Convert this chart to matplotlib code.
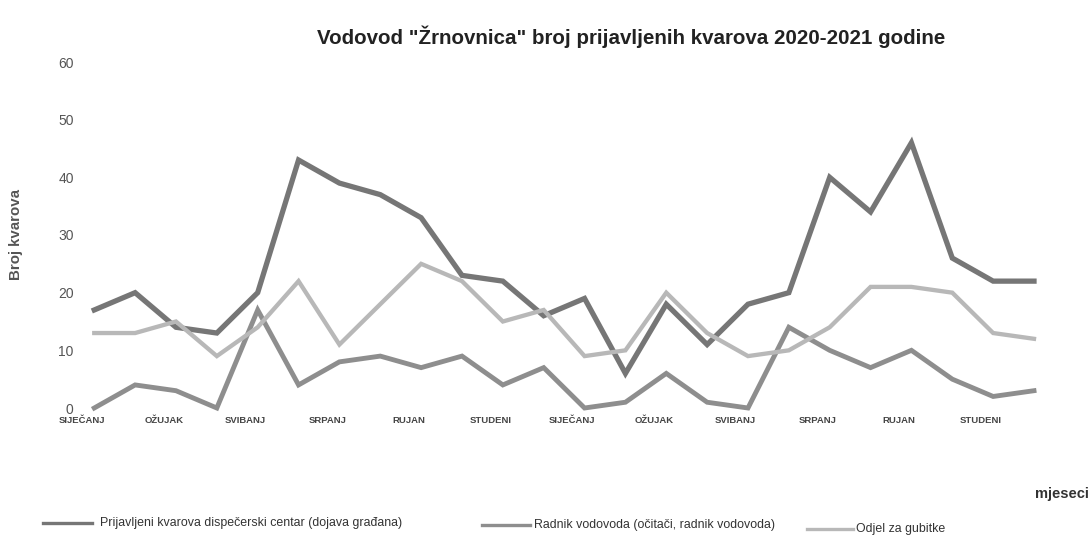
import matplotlib
matplotlib.use("Agg")
import matplotlib.pyplot as plt
from matplotlib.lines import Line2D

plt.rcParams['font.family'] = ['Liberation Sans', 'DejaVu Sans']

# ---- data ----
months = ["SIJEČANJ", "VELJAČA", "OŽUJAK", "TRAVANJ", "SVIBANJ", "LIPANJ",
          "SRPANJ", "KOLOVOZ", "RUJAN", "LISTOPAD", "STUDENI", "PROSINAC"] * 2
dispecerski = [17, 20, 14, 13, 20, 43, 39, 37, 33, 23, 22, 16,
               19, 6, 18, 11, 18, 20, 40, 34, 46, 26, 22, 22]
radnik = [0, 4, 3, 0, 17, 4, 8, 9, 7, 9, 4, 7,
          0, 1, 6, 1, 0, 14, 10, 7, 10, 5, 2, 3]
odjel = [13, 13, 15, 9, 14, 22, 11, 18, 25, 22, 15, 17,
         9, 10, 20, 13, 9, 10, 14, 21, 21, 20, 13, 12]
series_names = ["Prijavljeni kvarova dispečerski centar (dojava građana)",
                "Radnik vodovoda (očitači, radnik vodovoda)",
                "Odjel za gubitke"]
yticks = [0, 10, 20, 30, 40, 50, 60]
title = 'Vodovod "Žrnovnica" broj prijavljenih kvarova 2020-2021 godine'

colors = ["#767676", "#8e8e8e", "#b8b8b8"]
widths = [3.8, 3.5, 3.1]

W, H = 1091, 556
fig = plt.figure(figsize=(W / 100, H / 100), dpi=100)
ax = fig.add_axes([82 / W, 1 - 408 / H, (1034 - 82) / W, (408 - 62) / H])

x = list(range(len(months)))
for vals, c, lw in zip([dispecerski, radnik, odjel], colors, widths):
    ax.plot(x, vals, color=c, lw=lw, solid_joinstyle='miter', clip_on=False)

ax.set_xlim(0, len(months) - 1)
ax.set_ylim(0, 60)
for s in ax.spines.values():
    s.set_visible(False)
ax.tick_params(length=0)
ax.set_yticks(yticks)
ax.set_yticklabels([str(v) for v in yticks], fontsize=10, color="#555555")
ax.tick_params(axis='y', pad=6)
tick_pos = [i - 0.3 for i in x[::2]]
ax.set_xticks(tick_pos)
ax.set_xticklabels(months[::2], fontsize=6.8, fontweight='bold', color="#444444")
ax.tick_params(axis='x', pad=6)

ax.set_ylabel("Broj kvarova", fontsize=10.8, fontweight='bold', color="#555555")
ax.yaxis.set_label_coords(-0.062, 0.5)

fig.text(631 / W, 1 - 37 / H, title, ha='center', va='center', fontsize=14.8,
         fontweight='bold', color="#222222")
fig.text(1089 / W, 1 - 494 / H, "mjeseci", ha='right', va='center', fontsize=10.5,
         fontweight='bold', color="#333333")

# legend (manual)
leg = [(43, 92, 100, 523), (482, 530, 534, 525), (807, 853, 856, 529)]
for (x0, x1, tx, ty), name, c in zip(leg, series_names, colors):
    fig.add_artist(Line2D([x0 / W, x1 / W], [1 - ty / H, 1 - ty / H],
                          color=c, lw=2.4, transform=fig.transFigure))
    fig.text(tx / W, 1 - ty / H, name, ha='left', va='center', fontsize=8.9,
             color="#333333")

fig.savefig("out.png", dpi=100)
